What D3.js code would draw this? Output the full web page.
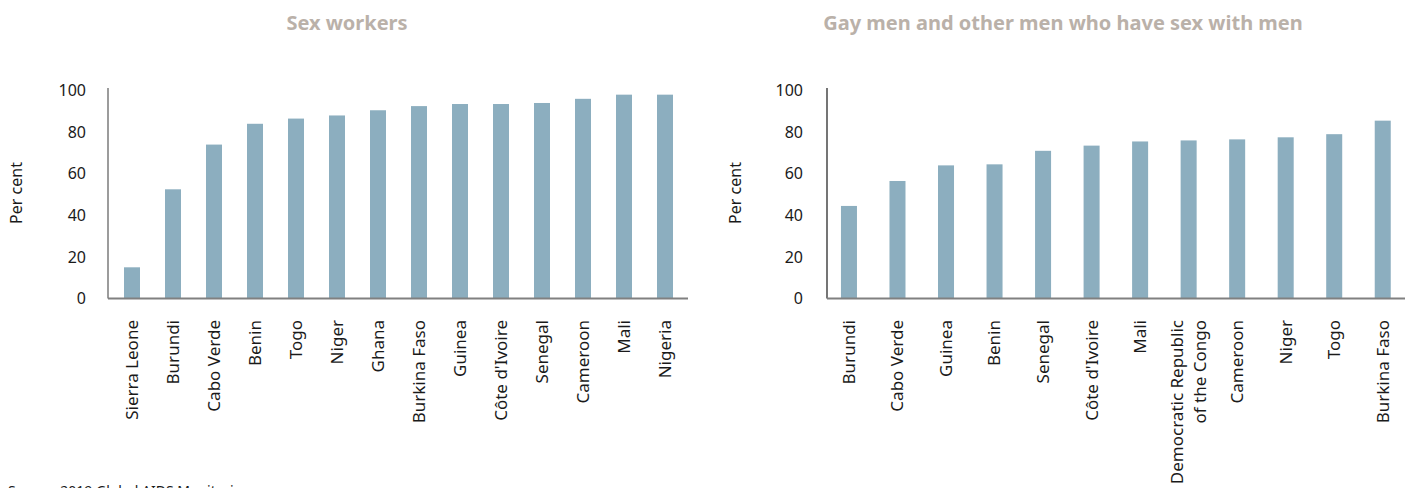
<!DOCTYPE html>
<html>
<head>
<meta charset="utf-8">
<script src="https://cdn.jsdelivr.net/npm/d3@7"></script>
<style>
  html, body { margin: 0; padding: 0; background: #fff; }
  svg { display: block; font-family: "Noto Sans", "Open Sans", sans-serif; }
</style>
</head>
<body>
<svg id="chart" width="1408" height="488"></svg>
<script>
// Sex workers panel
const swCountries = ["Sierra Leone", "Burundi", "Cabo Verde", "Benin", "Togo", "Niger", "Ghana",
  "Burkina Faso", "Guinea", "Côte d'Ivoire", "Senegal", "Cameroon", "Mali", "Nigeria"];
const swValues = [15, 52.5, 74, 84, 86.5, 88, 90.5, 92.5, 93.5, 93.5, 94, 96, 98, 98];

// Gay men and other men who have sex with men panel
const msmCountries = ["Burundi", "Cabo Verde", "Guinea", "Benin", "Senegal", "Côte d'Ivoire", "Mali",
  "Democratic Republic\nof the Congo", "Cameroon", "Niger", "Togo", "Burkina Faso"];
const msmValues = [44.5, 56.5, 64, 64.5, 71, 73.5, 75.5, 76, 76.5, 77.5, 79, 85.5];

const yTicks = [0, 20, 40, 60, 80, 100];
const yTitle = "Per cent";
const panelTitles = ["Sex workers", "Gay men and other men who have sex with men"];
const sourceNote = "Source: 2019 Global AIDS Monitoring";

const barColor = "#8caebf";
const titleColor = "#bab1a9";
const textColor = "#1a1a1a";
const fontFamily = "'Noto Sans', 'Open Sans', sans-serif";

const svg = d3.select("#chart");

const y = d3.scaleLinear().domain([0, 100]).range([298.5, 90.5]);

function drawPanel(cfg) {
  const g = svg.append("g");
  const x = d3.scaleBand()
    .domain(cfg.categories)
    .range(cfg.range)
    .paddingInner(cfg.pad)
    .paddingOuter(cfg.pad / 2);

  // bars
  g.selectAll("rect.bar")
    .data(cfg.values)
    .join("rect")
    .attr("class", "bar")
    .attr("x", (d, i) => x(cfg.categories[i]))
    .attr("width", x.bandwidth())
    .attr("y", d => y(d))
    .attr("height", d => y(0) - y(d))
    .attr("fill", barColor);

  // y axis line and labels
  const yAxis = d3.axisLeft(y).tickValues(yTicks).tickSize(0).tickPadding(cfg.tickPad);
  const ya = g.append("g").attr("transform", `translate(${cfg.axisX},0)`).call(yAxis);
  ya.select(".domain").remove();
  ya.selectAll("text")
    .attr("font-size", 16)
    .attr("font-family", fontFamily)
    .attr("fill", textColor);
  g.append("line")
    .attr("x1", cfg.axisX).attr("x2", cfg.axisX)
    .attr("y1", y(0)).attr("y2", 88)
    .attr("stroke", cfg.yAxisColor).attr("stroke-width", 1.2);

  // x axis baseline
  g.append("line")
    .attr("x1", cfg.axisX).attr("x2", cfg.axisEnd)
    .attr("y1", y(0)).attr("y2", y(0))
    .attr("stroke", "#808080").attr("stroke-width", 2);

  // rotated category labels
  const labels = g.selectAll("text.cat")
    .data(cfg.categories)
    .join("text")
    .attr("class", "cat")
    .attr("transform", d => `translate(${x(d) + x.bandwidth() / 2},320) rotate(-90)`)
    .attr("text-anchor", "end")
    .attr("font-size", 17)
    .attr("fill", textColor);
  labels.each(function (d) {
    const lines = d.split("\n");
    const t = d3.select(this);
    lines.forEach((ln, i) => {
      t.append("tspan")
        .attr("x", 0)
        .attr("y", `${(i - (lines.length - 1) / 2) * 1.36 + 0.35}em`)
        .text(ln);
    });
  });

  // y axis title
  g.append("text")
    .attr("transform", `translate(${cfg.yTitleX},193) rotate(-90)`)
    .attr("text-anchor", "middle")
    .attr("dy", "0.35em")
    .attr("font-size", 16)
    .attr("fill", textColor)
    .text(yTitle);

  // panel title
  g.append("text")
    .attr("x", cfg.titleX).attr("y", 30)
    .attr("text-anchor", "middle")
    .attr("font-size", 20)
    .attr("font-weight", 700)
    .attr("fill", titleColor)
    .text(cfg.title);
}

drawPanel({
  categories: swCountries, values: swValues,
  range: [111.5, 685.5], pad: 0.61,
  axisX: 108, axisEnd: 688, tickPad: 22,
  yAxisColor: "#5a5a5a", yTitleX: 16,
  titleX: 347, title: panelTitles[0]
});

drawPanel({
  categories: msmCountries, values: msmValues,
  range: [824.7, 1407], pad: 0.67,
  axisX: 827, axisEnd: 1405, tickPad: 24,
  yAxisColor: "#1a1a1a", yTitleX: 735,
  titleX: 1063, title: panelTitles[1]
});

// source note along the bottom edge
svg.append("text")
  .attr("x", 8).attr("y", 496)
  .attr("font-size", 14)
  .attr("fill", textColor)
  .text(sourceNote);
</script>
</body>
</html>
